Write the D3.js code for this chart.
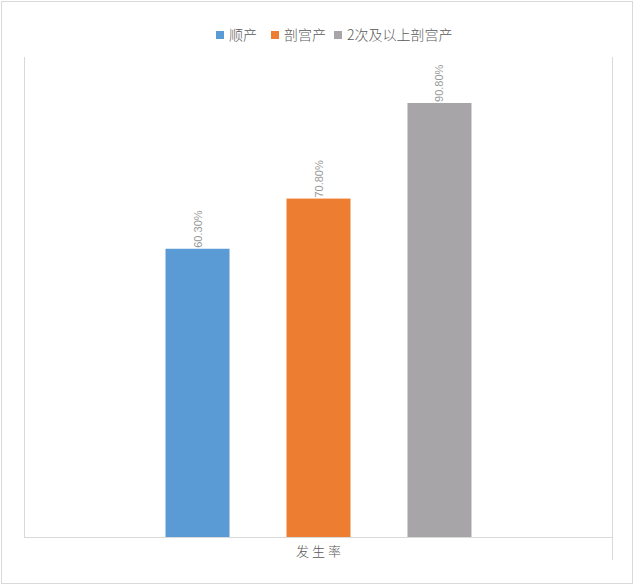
<!DOCTYPE html>
<html>
<head>
<meta charset="utf-8">
<script src="https://cdn.jsdelivr.net/npm/d3@7/dist/d3.min.js"></script>
<style>
  html, body { margin: 0; padding: 0; background: #fff; }
  svg { display: block; font-family: "Noto Sans CJK SC", "Microsoft YaHei", sans-serif; }
</style>
</head>
<body>
<svg id="chart" width="634" height="585"></svg>
<script>
const categories = ["发生率"];
const seriesNames = ["顺产", "剖宫产", "2次及以上剖宫产"];
const seriesValues = [60.3, 70.8, 90.8];
const seriesColors = ["#5B9BD5", "#ED7D31", "#A8A5A9"];

const svg = d3.select("#chart");
const W = 634, H = 585;
const plot = { left: 24, right: 613, top: 57, bottom: 537 };

// outer border
svg.append("rect").attr("x", 1.5).attr("y", 1.5).attr("width", W - 3).attr("height", H - 3)
  .attr("fill", "#fff").attr("stroke", "#d9d9d9").attr("stroke-width", 1);

const y = d3.scaleLinear().domain([0, 100]).range([plot.bottom, 59]);
const x0 = d3.scaleBand().domain(categories).range([plot.left, plot.right]).paddingInner(0.3162).paddingOuter(0.3162);
const x1 = d3.scaleBand().domain(seriesNames).range([0, x0.bandwidth()]).paddingInner(0.471).paddingOuter(0);

// plot area side lines
svg.append("line").attr("x1", plot.left + 0.5).attr("x2", plot.left + 0.5).attr("y1", plot.top).attr("y2", plot.bottom)
  .attr("stroke", "#d9d9d9");
svg.append("line").attr("x1", plot.right - 0.5).attr("x2", plot.right - 0.5).attr("y1", plot.top).attr("y2", 560)
  .attr("stroke", "#d9d9d9");

const data = seriesNames.map((s, i) => ({ cat: categories[0], name: s, value: seriesValues[i], color: seriesColors[i] }));

const g = svg.append("g");
g.selectAll("rect.bar").data(data).enter().append("rect")
  .attr("class", "bar")
  .attr("x", d => x0(d.cat) + x1(d.name))
  .attr("y", d => y(d.value))
  .attr("width", x1.bandwidth())
  .attr("height", d => y(0) - y(d.value))
  .attr("fill", d => d.color);

// data labels (rotated)
g.selectAll("text.lbl").data(data).enter().append("text")
  .attr("class", "lbl")
  .attr("transform", d => `translate(${x0(d.cat) + x1(d.name) + x1.bandwidth() / 2 + 4},${y(d.value) - 1}) rotate(-90)`)
  .attr("text-anchor", "start")
  .attr("font-size", 11)
  .attr("font-family", "Arial, 'Liberation Sans', sans-serif")
  .attr("fill", "#999999")
  .text(d => d.value.toFixed(2) + "%");

// x axis
const xAxis = d3.axisBottom(x0).tickSize(0).tickPadding(10);
const ax = svg.append("g").attr("transform", `translate(0,${plot.bottom})`).call(xAxis);
ax.select(".domain").attr("stroke", "#d9d9d9").attr("d", `M${plot.left},0.5H${plot.right}`);
ax.selectAll("text").attr("font-size", 13).attr("fill", "#595959")
  .attr("font-family", "'Noto Sans CJK SC', sans-serif")
  .attr("font-weight", 300)
  .attr("letter-spacing", "3px").attr("dx", "1.5px");

// legend
const legendX = [216, 271, 334];
const legend = svg.append("g");
data.forEach((d, i) => {
  const lg = legend.append("g").attr("transform", `translate(${legendX[i]},31)`);
  lg.append("rect").attr("width", 8).attr("height", 8).attr("fill", d.color);
  lg.append("text").attr("x", 13).attr("y", 4).attr("dy", "0.36em")
    .attr("font-size", 14).attr("font-weight", 300).attr("fill", "#595959").text(d.name);
});
</script>
</body>
</html>
